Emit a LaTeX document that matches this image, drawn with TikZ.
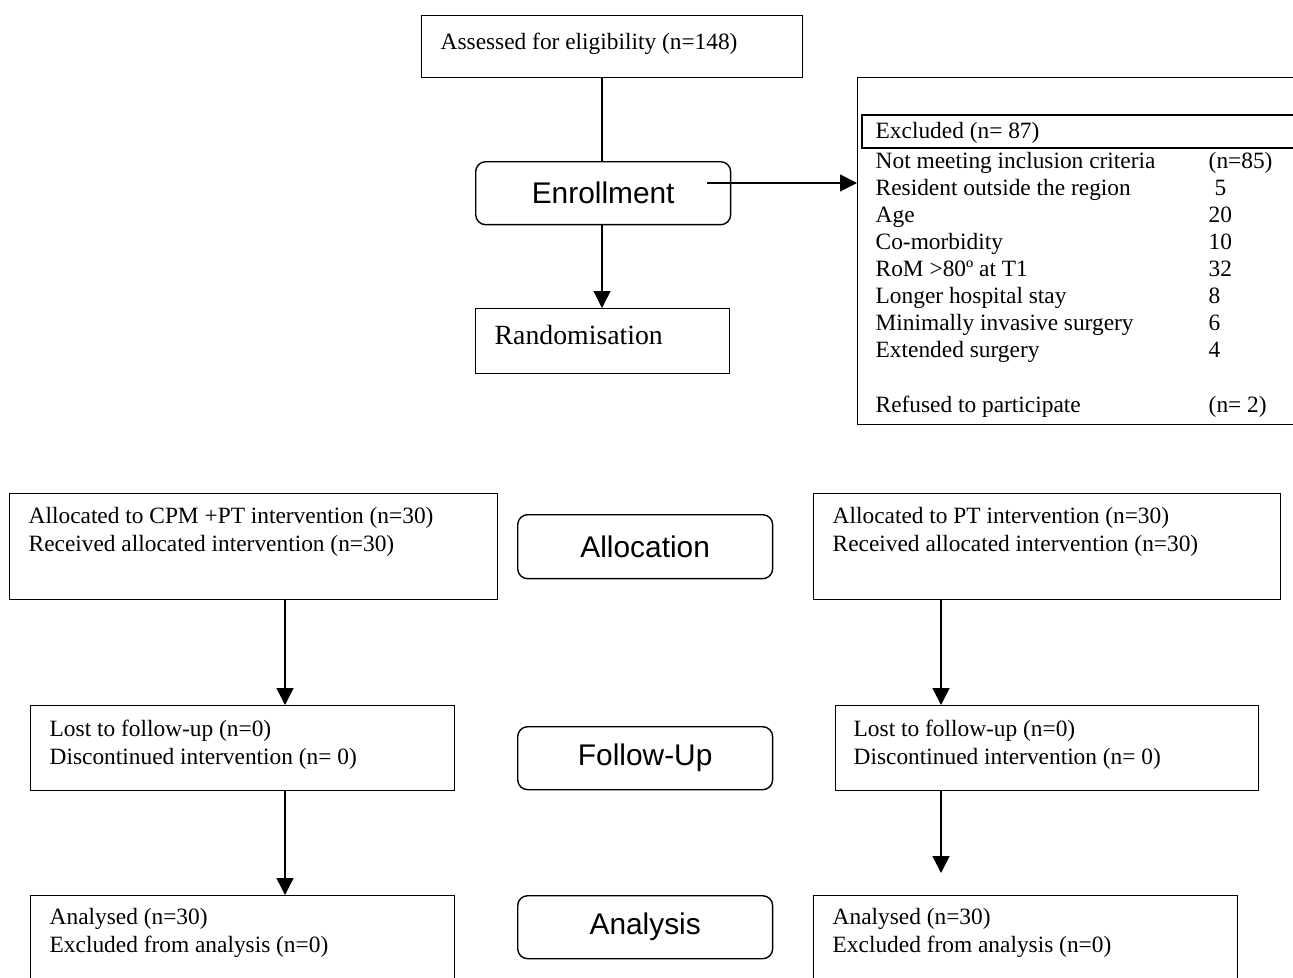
\documentclass[tikz,border=0pt]{standalone}
\usepackage{fontspec}
\setmainfont{Liberation Serif}
\setsansfont{Liberation Sans}
\usetikzlibrary{arrows.meta}

\begin{document}
\begin{tikzpicture}[x=0.02cm, y=-0.02cm, line width=0.8pt,
    box/.style={draw, rectangle, anchor=north west, inner sep=0},
    stage/.style={draw, rectangle, rounded corners=0.2cm, anchor=north west, inner sep=0,
        minimum width=5.1cm, font=\sffamily\fontsize{17}{20}\selectfont},
    txt/.style={anchor=base west, align=left, inner sep=0, font=\fontsize{13.3}{15.6}\selectfont},
    arr/.style={-{Triangle[length=0.34cm, width=0.34cm]}}]
        \useasboundingbox (0,0) rectangle (1293,977);
        \clip (0,0) rectangle (1293,977);
        % columns of the connectors
        \coordinate (lcol) at (285,0);
        \coordinate (mcol) at (602,0);
        \coordinate (rcol) at (941,0);

        % top part
        \node [box, minimum width=7.62cm, minimum height=1.24cm] (assess) at (421,15){};
        \node [txt] (assesstxt) at (440,49) {Assessed for eligibility (n=148)};
        \node [stage, minimum height=1.26cm] (enrol) at (475,161){Enrollment};
        \node [box, minimum width=5.08cm, minimum height=1.30cm] (random) at (475,308){};
        \node [txt, font=\fontsize{15.8}{18}\selectfont] (randomtxt) at (494,344) {Randomisation};

        \draw (assess.south -| mcol) -- (enrol.north -| mcol);
        \draw [arr] (enrol.south -| mcol) -- (random.north -| mcol);

        % excluded
        \node [box, minimum width=9.06cm, minimum height=6.94cm] (excl) at (857,77){};
        \node [box, line width=1.1pt, minimum width=8.98cm, minimum height=0.66cm] (exhead) at (861,114){};
        \node [txt] (exheadtxt) at (875,138) {Excluded (n= 87)};
        \foreach \lbl/\num [count=\i] in {Not meeting inclusion criteria/{(n=85)},
            Resident outside the region/{\ 5}, Age/20, Co-morbidity/10,
            RoM >80º at T1/32, Longer hospital stay/8,
            Minimally invasive surgery/6, Extended surgery/4}{
            \node [txt] (ex\i) at (875,141+27*\i) {\lbl};
            \node [txt] (exn\i) at (1208,141+27*\i) {\num};
        }
        \node [txt] (refused) at (875,412) {Refused to participate};
        \node [txt] (refusedn) at (1208,412) {(n= 2)};
        \coordinate (enrout) at (707,183);
        \draw [arr] (enrout) -- (excl.west |- enrout);

        % allocation (base anchor sits on the last line)
        \node [box, minimum width=9.76cm, minimum height=2.12cm] (alloc1) at (9,493){};
        \node [txt] (alloc1txt) at (28,551) {Allocated to CPM +PT intervention (n=30)\\Received allocated intervention (n=30)};
        \node [stage, minimum height=1.28cm] (allocst) at (517,514){Allocation};
        \node [box, minimum width=9.34cm, minimum height=2.12cm] (alloc2) at (813,493){};
        \node [txt] (alloc2txt) at (832,551) {Allocated to PT intervention (n=30)\\Received allocated intervention (n=30)};

        % follow-up
        \node [box, minimum width=8.48cm, minimum height=1.70cm] (fu1) at (30,705){};
        \node [txt] (fu1txt) at (49,764) {Lost to follow-up (n=0)\\Discontinued intervention (n= 0)};
        \node [stage, minimum height=1.26cm] (fust) at (517,726){Follow-Up};
        \node [box, minimum width=8.46cm, minimum height=1.70cm] (fu2) at (835,705){};
        \node [txt] (fu2txt) at (853,764) {Lost to follow-up (n=0)\\Discontinued intervention (n= 0)};

        % analysis
        \node [box, minimum width=8.48cm, minimum height=2.10cm] (an1) at (30,895){};
        \node [txt] (an1txt) at (49,952) {Analysed (n=30)\\Excluded from analysis (n=0)};
        \node [stage, minimum height=1.26cm] (anst) at (517,895){Analysis};
        \node [box, minimum width=8.48cm, minimum height=2.10cm] (an2) at (813,895){};
        \node [txt] (an2txt) at (832,952) {Analysed (n=30)\\Excluded from analysis (n=0)};

        \draw [arr] (alloc1.south -| lcol) -- (fu1.north -| lcol);
        \draw [arr] (fu1.south -| lcol) -- (an1.north -| lcol);
        \draw [arr] (alloc2.south -| rcol) -- (fu2.north -| rcol);
        \coordinate (an2tip) at (941,873);
        \draw [arr] (fu2.south -| rcol) -- (an2tip);

    \end{tikzpicture}
\end{document}
